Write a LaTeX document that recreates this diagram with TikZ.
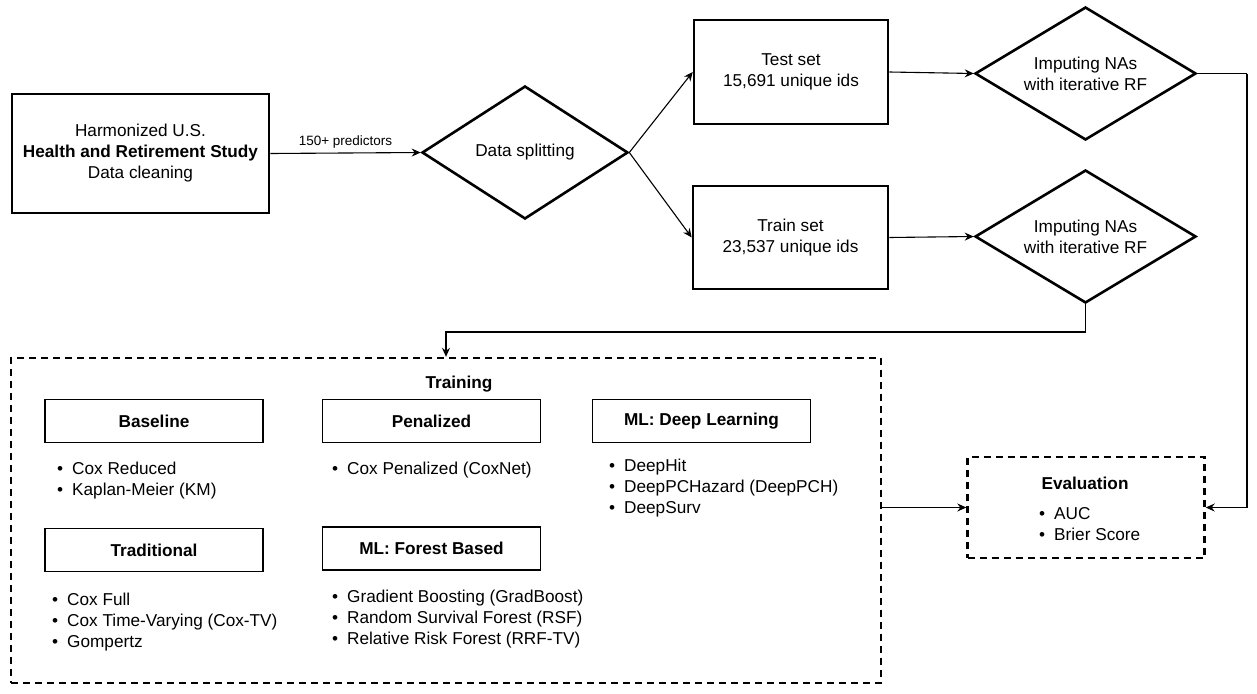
\documentclass[tikz,border=0pt]{standalone}
\usepackage{fontspec}
\setmainfont{Liberation Sans}
\usetikzlibrary{shapes.geometric,arrows.meta}
\begin{document}
\begin{tikzpicture}[x=1pt,y=-1pt,
  thickbox/.style={draw,line width=2.6pt,inner sep=0pt,align=center,font=\fontsize{17.2}{21}\selectfont},
  dia/.style={draw,diamond,aspect=1.6,line width=2.6pt,inner sep=0pt,align=center,font=\fontsize{17.2}{21}\selectfont},
  subbox/.style={draw,line width=1.4pt,minimum width=218pt,minimum height=43pt,inner sep=0pt,font=\fontsize{17.2}{20}\bfseries\selectfont},
  dbox/.style={draw,dashed,dash pattern=on 7pt off 5pt,line width=2.4pt,inner sep=0pt},
  blist/.style={anchor=west,align=left,inner sep=0pt,font=\fontsize{17.2}{21}\selectfont},
  conn/.style={line width=1.1pt,-{Stealth[length=9pt,width=8pt,inset=3pt]}},
  plain/.style={line width=1.1pt}]
\useasboundingbox (0,0) rectangle (1257,693);
\newcommand{\bul}{\makebox[15pt][l]{\textbullet}}

% top row
\node[thickbox,minimum width=257pt,minimum height=119pt] (hrs) at (140.5,153.5)
  {Harmonized U.S.\\\textbf{Health and Retirement Study}\\Data cleaning};
\node[dia,minimum width=206pt,minimum height=133pt] (split) at (525,152.5) {Data splitting};
\node[thickbox,minimum width=194pt,minimum height=104pt] (test) at (791,72) {Test set\\15,691 unique ids};
\node[thickbox,minimum width=195pt,minimum height=103pt] (train) at (790.5,237.5) {Train set\\23,537 unique ids};
\node[dia,minimum width=221pt,minimum height=133pt] (imp1) at (1085.5,73.5) {Imputing NAs\\with iterative RF};
\node[dia,minimum width=221pt,minimum height=133pt] (imp2) at (1085.5,236.5) {Imputing NAs\\with iterative RF};

\draw[conn] (hrs.east) -- node[above=1pt,font=\fontsize{13.5}{15}\selectfont] (lbl) {150+ predictors} (split.west);
\draw[conn] (split.east) -- (test.west);
\draw[conn] (split.east) -- (train.west);
\draw[conn] (test.east) -- (imp1.west);
\draw[conn] (train.east) -- (imp2.west);

% training box
\node[dbox,minimum width=870pt,minimum height=325pt] (trainbox) at (446,520.5) {};
\node[font=\fontsize{17.2}{20}\bfseries\selectfont] (ttl) at (459,384) {Training};
\node[subbox] (base) at (154,421) {Baseline};
\node[subbox] (pen) at (431.5,421) {Penalized};
\node[subbox] (dl) at (701.5,421) {ML: Deep Learning};
\node[subbox] (trad) at (154,550) {Traditional};
\node[subbox] (forest) at (431.5,548.5) {ML: Forest Based};

\node[blist] (lb) at (57,480.5) {\bul Cox Reduced\\\bul Kaplan-Meier (KM)};
\node[blist] (lp) at (332,470) {\bul Cox Penalized (CoxNet)};
\node[blist] (ld) at (609,488) {\bul DeepHit\\\bul DeepPCHazard (DeepPCH)\\\bul DeepSurv};
\node[blist] (lt) at (52,622) {\bul Cox Full\\\bul Cox Time-Varying (Cox-TV)\\\bul Gompertz};
\node[blist] (lf) at (332,619) {\bul Gradient Boosting (GradBoost)\\\bul Random Survival Forest (RSF)\\\bul Relative Risk Forest (RRF-TV)};

% evaluation
\node[dbox,minimum width=237pt,minimum height=101pt] (eval) at (1086,507.5) {};
\node[font=\fontsize{17.2}{20}\bfseries\selectfont] (etl) at (1085,483) {Evaluation};
\node[blist] (le) at (1039,524) {\bul AUC\\\bul Brier Score};

% connectors
\coordinate (rt) at (1247,73.5);
\draw[plain] (imp1.east) -- (rt);
\draw[conn] (rt) |- (eval.east);
\coordinate (bend) at (1085.5,332);
\draw[plain] (imp2.south) -- (bend);
\draw[conn] (bend) -| (trainbox.north);
\draw[conn] (trainbox.east |- eval.west) -- (eval.west);
\end{tikzpicture}
\end{document}
